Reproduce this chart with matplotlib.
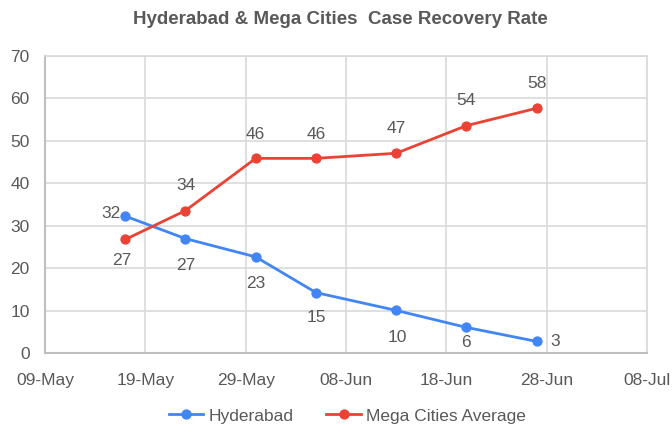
import matplotlib
matplotlib.use("Agg")
import matplotlib.pyplot as plt
import matplotlib.dates as mdates
import numpy as np
import datetime as dt

dates = ["2020-05-17", "2020-05-23", "2020-05-30", "2020-06-05", "2020-06-13", "2020-06-20", "2020-06-27"]
hyderabad = [32.3, 27.0, 22.7, 14.3, 10.1, 6.1, 2.8]
mega_avg = [26.8, 33.6, 45.9, 45.9, 47.1, 53.6, 57.7]
hyd_labels = ["32", "27", "23", "15", "10", "6", "3"]
mega_labels = ["27", "34", "46", "46", "47", "54", "58"]
x_ticks = ["2020-05-09", "2020-05-19", "2020-05-29", "2020-06-08", "2020-06-18", "2020-06-28", "2020-07-08"]
y_ticks = [0, 10, 20, 30, 40, 50, 60, 70]

x = [dt.datetime.strptime(d, "%Y-%m-%d") for d in dates]
xt = [dt.datetime.strptime(d, "%Y-%m-%d") for d in x_ticks]

plt.rcParams['font.family'] = ['Liberation Sans', 'DejaVu Sans']
txt = '#595959'
blue = '#4285F4'
red = '#EA4335'
grid = '#d9d9d9'
fs = 12.5

fig = plt.figure(figsize=(6.72, 4.28), dpi=100)
ax = fig.add_axes([45/672, 1-353.3/428, (647-45)/672, (353.3-56)/428])

ax.plot(x, hyderabad, color=blue, lw=2.0, marker='o', ms=6.4, label='Hyderabad', zorder=3, clip_on=False)
ax.plot(x, mega_avg, color=red, lw=2.0, marker='o', ms=6.4, label='Mega Cities Average', zorder=3, clip_on=False)

ax.set_xlim(xt[0], xt[-1])
ax.set_ylim(0, 70)
ax.set_xticks(xt)
ax.xaxis.set_major_formatter(mdates.DateFormatter('%d-%b'))
ax.set_yticks(y_ticks)
ax.grid(True, color=grid, lw=1.2)
ax.set_axisbelow(True)
for s in ['top', 'right']:
    ax.spines[s].set_color(grid)
    ax.spines[s].set_linewidth(1.2)
for s in ['left', 'bottom']:
    ax.spines[s].set_color('#bfbfbf')
    ax.spines[s].set_linewidth(1.5)
ax.tick_params(axis='both', length=0, labelsize=fs, colors=txt)
ax.tick_params(axis='x', pad=14)
ax.tick_params(axis='y', pad=11)

hyd_off = [(-14, 3), (0, -27), (0, -27), (0, -25), (1, -27), (0, -15), (19, 0)]
mega_off = [(-4, -21), (1, 25), (0, 24), (0, 24), (0, 25), (0, 25), (0, 25)]
for xi, yi, lab, off in zip(x, hyderabad, hyd_labels, hyd_off):
    ax.annotate(lab, (xi, yi), xytext=off, textcoords='offset pixels', ha='center', va='center',
                fontsize=fs, color=txt, zorder=5, annotation_clip=False)
for xi, yi, lab, off in zip(x, mega_avg, mega_labels, mega_off):
    ax.annotate(lab, (xi, yi), xytext=off, textcoords='offset pixels', ha='center', va='center',
                fontsize=fs, color=txt, zorder=5, annotation_clip=False)

fig.text(0.507, 1-19/428, 'Hyderabad & Mega Cities  Case Recovery Rate', ha='center', va='center',
         fontsize=13.5, fontweight='bold', color=txt,
         family=['Liberation Sans Narrow', 'Liberation Sans', 'DejaVu Sans'])

leg = fig.legend(loc='center', bbox_to_anchor=(0.517, 1-416/428), ncol=2, frameon=False,
                 fontsize=fs, handlelength=2.0, handletextpad=0.3, columnspacing=1.9)
for t in leg.get_texts():
    t.set_color(txt)

fig.savefig('out.png', dpi=100)
